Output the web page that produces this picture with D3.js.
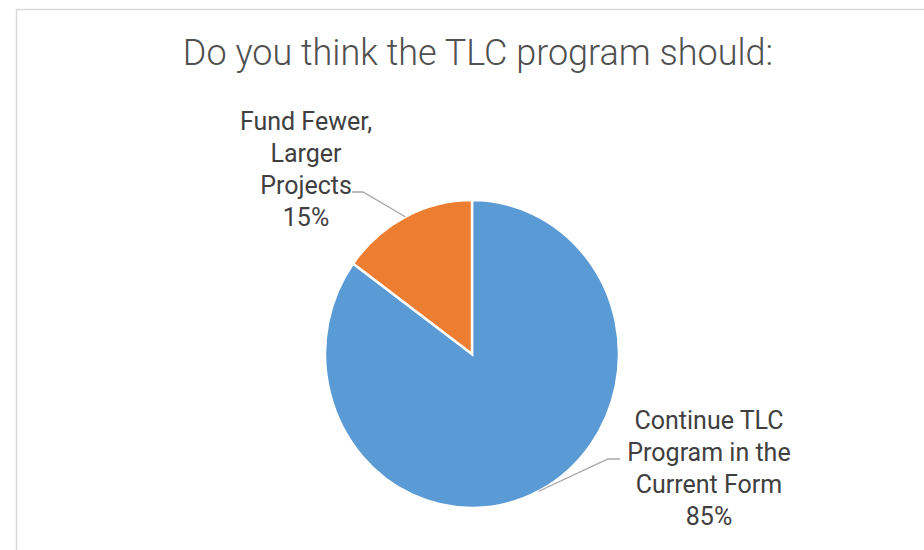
<!DOCTYPE html>
<html>
<head>
<meta charset="utf-8">
<title>TLC program pie</title>
<script src="https://d3js.org/d3.v7.min.js"></script>
<style>
  body { margin: 0; background: #fff; }
  .title { font: 300 36px Roboto, "Open Sans", sans-serif; fill: #505050; }
  .lbl { font: 25px Roboto, "Liberation Sans", sans-serif; fill: #404040; }
</style>
</head>
<body>
<svg width="924" height="550"></svg>
<script>
  // data
  var categories = ["Continue TLC Program in the Current Form", "Fund Fewer, Larger Projects"];
  var values = [85, 15];
  var labelLines = [
    ["Continue TLC", "Program in the", "Current Form", "85%"],
    ["Fund Fewer,", "Larger", "Projects", "15%"]
  ];
  var colors = ["#5b9bd5", "#ed7d31"];

  var svg = d3.select("svg");

  // chart frame (only top and left edges are visible)
  svg.append("rect")
    .attr("x", 16.5).attr("y", 9.5)
    .attr("width", 1000).attr("height", 600)
    .attr("fill", "none").attr("stroke", "#d9d9d9").attr("stroke-width", 1.5);

  svg.append("text").attr("class", "title")
    .attr("x", 478).attr("y", 65)
    .attr("text-anchor", "middle")
    .text("Do you think the TLC program should:");

  var cx = 472, cy = 354, r = 147, sy = 154 / 147;

  var pie = d3.pie().sort(null).value(d => d)(values);
  var arc = d3.arc().innerRadius(0).outerRadius(r);

  var g = svg.append("g")
    .attr("transform", "translate(" + cx + "," + cy + ") scale(1," + sy + ")");

  g.selectAll("path")
    .data(pie)
    .join("path")
      .attr("d", arc)
      .attr("fill", (d, i) => colors[i])
      .attr("stroke", "#fff")
      .attr("stroke-width", 2.5)
      .attr("vector-effect", "non-scaling-stroke");

  // label placement: where the leader line bends, and where the text block sits
  var labelPos = [
    { bend: [608, 459], end: [620, 459], x: 709, y: 429 },
    { bend: [363, 192], end: [352, 192], x: 306, y: 130 }
  ];

  pie.forEach(function (d, i) {
    var a = (d.startAngle + d.endAngle) / 2;
    var px = cx + r * Math.sin(a), py = cy - r * sy * Math.cos(a);
    var p = labelPos[i];
    svg.append("polyline")
      .attr("points", [[px, py], p.bend, p.end].map(q => q.join(",")).join(" "))
      .attr("fill", "none").attr("stroke", "#a6a6a6").attr("stroke-width", 1.3);

    var t = svg.append("text").attr("class", "lbl")
      .attr("text-anchor", "middle")
      .attr("x", p.x).attr("y", p.y);
    labelLines[i].forEach(function (s, k) {
      t.append("tspan").attr("x", p.x).attr("dy", k ? 32 : 0).text(s);
    });
  });
</script>
</body>
</html>
